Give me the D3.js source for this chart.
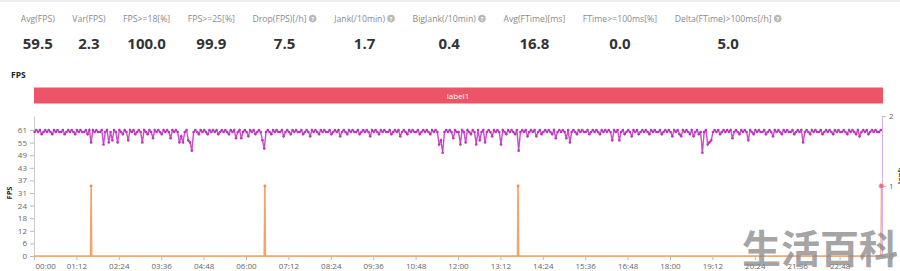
<!DOCTYPE html>
<html lang="en">
<head>
<meta charset="utf-8">
<title>FPS</title>
<script src="https://cdn.jsdelivr.net/npm/d3@7"></script>
<style>
  body { margin: 0; background: #fff; }
  svg { display: block; font-family: "Open Sans", sans-serif; }
</style>
</head>
<body>
<script>

// header stats
var statLabels = ["Avg(FPS)", "Var(FPS)", "FPS>=18[%]", "FPS>=25[%]", "Drop(FPS)[/h]", "Jank(/10min)",
                  "BigJank(/10min)", "Avg(FTime)[ms]", "FTime>=100ms[%]", "Delta(FTime)>100ms[/h]"];
var statValues = ["59.5", "2.3", "100.0", "99.9", "7.5", "1.7", "0.4", "16.8", "0.0", "5.0"];
var statHelp = [false, false, false, false, true, true, true, false, false, true];

// axes
var xTickLabels = ["00:00", "01:12", "02:24", "03:36", "04:48", "06:00", "07:12", "08:24", "09:36", "10:48",
                   "12:00", "13:12", "14:24", "15:36", "16:48", "18:00", "19:12", "20:24", "21:36", "22:48"];
var leftTicks = [0, 6.1, 12.2, 18.3, 24.4, 30.5, 36.6, 42.7, 48.8, 54.9, 61];
var leftTickLabels = ["0", "6", "12", "18", "24", "31", "37", "43", "49", "55", "61"];
var rightTicks = [0, 1, 2];

// FPS samples, one every 3 minutes from 00:01 (one row = one hour)
var fpsStart = "00:01";
var fpsStepMin = 3;
var fpsValues = [
  60,61,60,61,59,60,61,60,61,60, 59,61,60,61,60,60,61,59,60,61,
  60,61,60,59,61,60,61,60,60,61, 59,61,55,61,60,61,60,60,61,54,
  60,61,55,60,56,61,60,55,61,60, 59,61,60,56,61,60,61,59,60,61,
  60,55,61,60,59,61,60,57,61,60, 61,60,59,61,60,61,60,57,61,60,
  61,60,55,58,55,60,61,56,55,51, 60,61,60,59,61,60,61,60,59,61,
  60,61,60,61,59,60,61,60,61,60, 59,61,60,61,57,60,61,57,60,61,
  60,58,61,60,61,59,60,61,60,56, 52,60,61,60,59,61,60,61,60,60,
  61,58,60,61,60,59,61,60,61,60, 60,61,59,60,61,60,58,61,60,61,
  60,59,61,60,61,60,60,61,59,60, 61,60,61,58,60,61,60,59,61,60,
  61,60,60,61,59,60,61,60,61,60, 58,61,60,61,60,59,61,60,61,60,
  60,61,59,60,61,60,61,58,60,61, 60,59,61,60,61,60,60,61,59,60,
  61,60,61,60,59,61,60,61,60,54, 56,50,60,61,60,61,60,57,61,60,
  60,54,61,60,55,61,60,59,61,60, 54,61,56,60,61,55,60,61,60,58,
  61,60,61,60,54,61,60,59,61,60, 61,60,59,61,51,60,61,60,61,58,
  60,61,60,61,58,60,61,59,60,61, 60,61,60,59,61,57,60,61,60,61,
  60,57,61,55,60,61,60,59,61,60, 61,60,60,61,59,60,61,60,61,60,
  59,61,60,61,60,61,60,56,61,60, 61,56,60,61,59,60,61,60,58,61,
  60,61,59,60,61,60,61,60,59,61, 60,61,60,60,61,59,60,61,60,61,
  60,58,61,60,61,59,58,61,60,61, 60,59,61,58,60,61,59,60,50,60,
  61,54,55,56,60,61,60,61,59,60, 61,60,61,60,61,57,60,61,60,59,
  61,60,61,60,56,61,60,59,61,60, 61,60,60,61,59,60,61,60,58,61,
  60,61,60,59,61,60,61,60,60,61, 59,60,61,60,61,55,60,61,60,59,
  61,60,61,60,60,61,59,60,61,60, 61,60,59,61,60,61,60,60,61,60,
  59,61,60,61,60,59,61,58,60,61, 60,61,59,60,61,60,61,60,60,61
];

// Jank (right axis)
var jankTimes = ["00:00", "01:36", "01:37", "01:38", "06:31", "06:32", "06:33", "13:41", "13:42", "13:43", "23:59"];
var jankValues = [0, 0, 1, 0, 0, 1, 0, 0, 1, 0, 0];
var bigJankTimes = ["23:58", "23:59"];
var bigJankValues = [0, 1];

var bandLabel = "label1";

var w = 900, h = 271;
var plotLeft = 34, plotRight = 882, plotTop = 116, plotBottom = 256;

var svg = d3.select("body").append("svg")
  .attr("width", w)
  .attr("height", h);

// faint card edge at top
svg.append("line")
  .attr("x1", 0).attr("x2", w).attr("y1", 1).attr("y2", 1)
  .attr("stroke", "#eeeeee").attr("stroke-width", 2);

// ---- header stats ----
var cursor = 20.7;
statLabels.forEach(function(lab, i) {
  var t = svg.append("text")
    .attr("x", cursor).attr("y", 21.5)
    .attr("font-size", "8.7px")
    .attr("fill", "#8a8a8a")
    .text(lab);
  var lw = t.node().getComputedTextLength();
  var iw = 0;
  if (statHelp[i]) {
    var cx = cursor + lw + 6;
    svg.append("circle").attr("cx", cx).attr("cy", 18.6).attr("r", 3.8).attr("fill", "#b8b8b8");
    svg.append("text").attr("x", cx).attr("y", 21.2)
      .attr("text-anchor", "middle").attr("font-size", "6px").attr("font-weight", "bold")
      .attr("fill", "#fff").text("?");
    iw = 10;
  }
  var colW = lw + iw;
  svg.append("text")
    .attr("x", cursor + colW / 2).attr("y", 49)
    .attr("text-anchor", "middle")
    .attr("font-size", "15px").attr("font-weight", "bold")
    .attr("fill", "#333")
    .text(statValues[i]);
  cursor += colW + 17.5;
});

// ---- chart title + band ----
svg.append("text")
  .attr("x", 11).attr("y", 77.5)
  .attr("font-size", "8.5px").attr("font-weight", "bold").attr("fill", "#222")
  .text("FPS");

svg.append("rect")
  .attr("x", plotLeft).attr("y", 87.5).attr("width", plotRight + 1 - plotLeft).attr("height", 16)
  .attr("fill", "#ec5568");
svg.append("text")
  .attr("x", (plotLeft + plotRight) / 2).attr("y", 98.5)
  .attr("text-anchor", "middle").attr("font-size", "8px").attr("fill", "#fff")
  .text(bandLabel);

// ---- scales ----
var parseTime = d3.timeParse("%H:%M");
var day0 = parseTime("00:00");
var day1 = d3.timeDay.offset(day0, 1);

var xScale = d3.scaleTime().domain([day0, day1]).range([plotLeft, plotRight]);
var yLeft = d3.scaleLinear().domain([0, 61 * (plotBottom - plotTop) / 126]).range([plotBottom, plotTop]);
var yRight = d3.scaleLinear().domain([0, 2]).range([plotBottom, plotTop]);

// ---- axes ----
var xAxis = d3.axisBottom(xScale)
  .tickValues(xTickLabels.map(parseTime))
  .tickFormat(d3.timeFormat("%H:%M"))
  .tickSize(4).tickSizeOuter(0).tickPadding(3);
var yAxisL = d3.axisLeft(yLeft)
  .tickValues(leftTicks)
  .tickFormat(function(d, i) { return leftTickLabels[i]; })
  .tickSize(4).tickSizeOuter(0).tickPadding(3);
var yAxisR = d3.axisRight(yRight)
  .tickValues(rightTicks)
  .tickFormat(d3.format("d"))
  .tickSize(4).tickSizeOuter(0).tickPadding(3);

var gx = svg.append("g").attr("transform", "translate(0," + plotBottom + ")").call(xAxis);
var gl = svg.append("g").attr("transform", "translate(" + plotLeft + ",0)").call(yAxisL);
var gr = svg.append("g").attr("transform", "translate(" + plotRight + ",0)").call(yAxisR);

[gx, gl, gr].forEach(function(g) {
  g.selectAll("text").attr("font-size", "8px").attr("fill", "#666").attr("font-family", "Open Sans, sans-serif");
  g.selectAll("line").attr("stroke", "#bbb");
  g.select(".domain").attr("stroke", "#ccc");
});
gx.select(".tick text").attr("text-anchor", "start").attr("x", 1);
gr.select(".domain").attr("stroke", "#d9b0e8");

// axis titles
svg.append("text")
  .attr("transform", "translate(12,193) rotate(-90)")
  .attr("text-anchor", "middle").attr("font-size", "7.5px").attr("font-weight", "bold").attr("fill", "#222")
  .text("FPS");
svg.append("text")
  .attr("transform", "translate(903,176) rotate(-90)")
  .attr("text-anchor", "middle").attr("font-size", "7.5px").attr("font-weight", "bold").attr("fill", "#222")
  .text("Jank");

// ---- Jank series ----
var jankData = jankTimes.map(function(t, i) { return { t: parseTime(t), v: jankValues[i] }; });
var lineR = d3.line()
  .x(function(d) { return xScale(d.t); })
  .y(function(d) { return yRight(d.v); });

svg.append("path")
  .datum(jankData)
  .attr("d", lineR)
  .attr("fill", "none")
  .attr("stroke", "#f3a46a")
  .attr("stroke-width", 1.6);

svg.selectAll("circle.jank")
  .data(jankData.filter(function(d) { return d.v > 0; }))
  .enter().append("circle")
  .attr("class", "jank")
  .attr("cx", function(d) { return xScale(d.t); })
  .attr("cy", function(d) { return yRight(d.v); })
  .attr("r", 1.4)
  .attr("fill", "#e8925a");

// ---- BigJank series ----
var bigData = bigJankTimes.map(function(t, i) { return { t: parseTime(t), v: bigJankValues[i] }; });
svg.append("path")
  .datum(bigData)
  .attr("d", lineR)
  .attr("fill", "none")
  .attr("stroke", "#f2a08c")
  .attr("stroke-width", 1.2);
svg.selectAll("circle.big")
  .data(bigData.filter(function(d) { return d.v > 0; }))
  .enter().append("circle")
  .attr("class", "big")
  .attr("cx", function(d) { return xScale(d.t); })
  .attr("cy", function(d) { return yRight(d.v); })
  .attr("r", 2.6)
  .attr("fill", "#f06a7e")
  .attr("stroke", "#fbc4cc")
  .attr("stroke-width", 1);

// ---- FPS series ----
var t0 = parseTime(fpsStart);
var fpsData = fpsValues.map(function(v, i) {
  return { t: d3.timeMinute.offset(t0, i * fpsStepMin), v: v };
});
var lineL = d3.line()
  .x(function(d) { return xScale(d.t); })
  .y(function(d) { return yLeft(d.v); });

svg.append("path")
  .datum(fpsData)
  .attr("d", lineL)
  .attr("fill", "none")
  .attr("stroke", "#cc4ccc")
  .attr("stroke-width", 1.4);

svg.selectAll("circle.fps")
  .data(fpsData)
  .enter().append("circle")
  .attr("class", "fps")
  .attr("cx", function(d) { return xScale(d.t); })
  .attr("cy", function(d) { return yLeft(d.v); })
  .attr("r", 1.3)
  .attr("fill", "#b538b5");

// ---- watermark ----
svg.append("text")
  .attr("x", 898).attr("y", 263)
  .attr("text-anchor", "end")
  .attr("font-family", "Noto Sans CJK SC, sans-serif")
  .attr("font-size", "39px").attr("font-weight", "bold")
  .attr("fill", "#8c8c8c").attr("fill-opacity", 0.8)
  .text("生活百科");

</script>
</body>
</html>
